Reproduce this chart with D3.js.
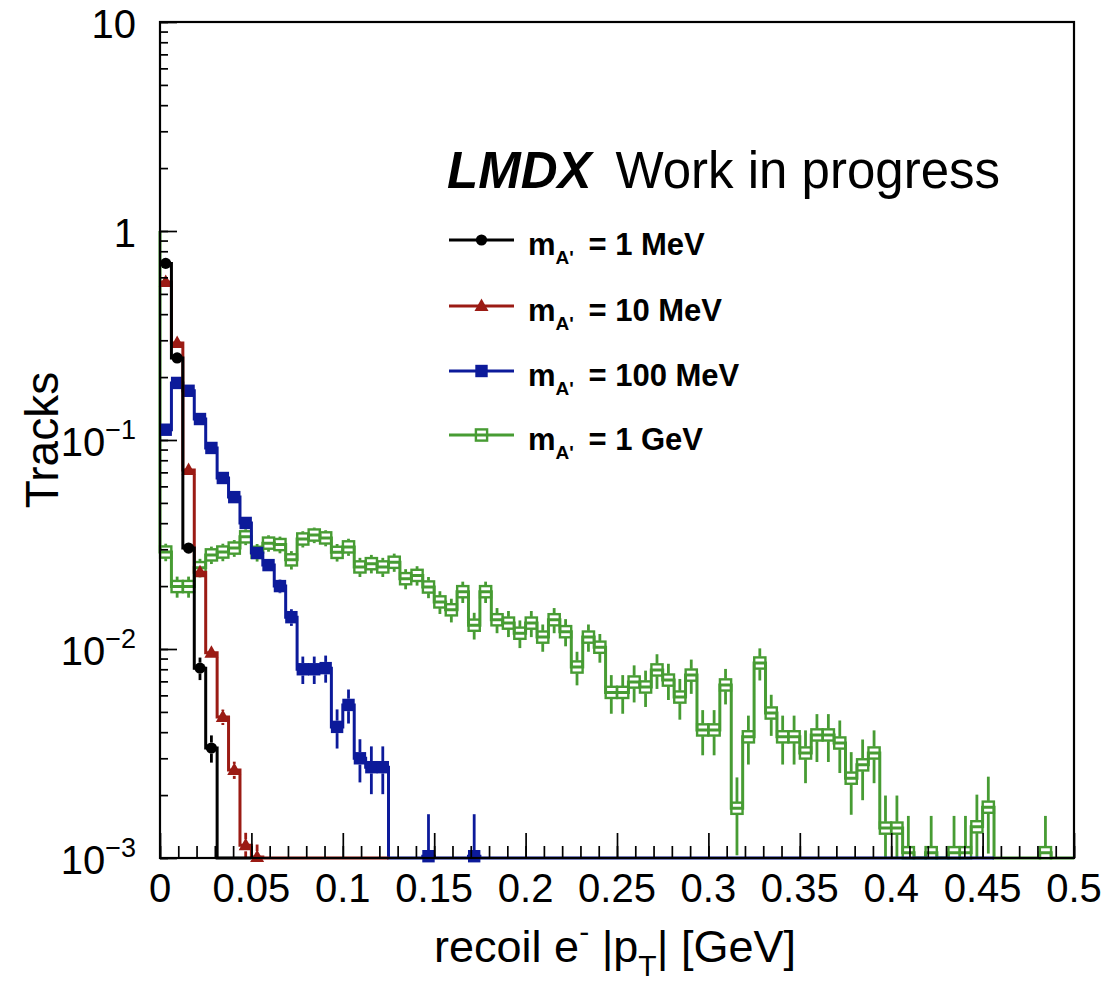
<!DOCTYPE html>
<html><head><meta charset="utf-8">
<script src="https://cdn.jsdelivr.net/npm/d3@7"></script>
<style>
body{margin:0;background:#fff}
text{font-family:"Liberation Sans",Arial,Helvetica,sans-serif;fill:#000}
</style>
</head><body>
<svg id="c" width="1111" height="1003"></svg>
<script>
// ---------------- data ----------------
const xMin = 0, xMax = 0.5, binWidth = 0.00625;
const yMin = 1e-3, yMax = 10;
const xTicks = [0, 0.05, 0.1, 0.15, 0.2, 0.25, 0.3, 0.35, 0.4, 0.45, 0.5];
const xTickLabels = ["0", "0.05", "0.1", "0.15", "0.2", "0.25", "0.3", "0.35", "0.4", "0.45", "0.5"];
const yTicks = [10, 1, 0.1, 0.01, 0.001];
const yTickBase = ["10", "1", "10", "10", "10"];
const yTickExp = ["", "", "\u22121", "\u22122", "\u22123"];

const seriesNames = ["1 MeV", "10 MeV", "100 MeV", "1 GeV"];

const black1MeV = [0.70, 0.247, 0.0304, 0.0081, 0.00336, 0, 0, 0];
const black1MeVErr = [0.008, 0.005, 0.0017, 0.001, 0.0005, 0, 0, 0];

const red10MeV = [0.57, 0.291, 0.0718, 0.0233, 0.0096, 0.00473, 0.00264, 0.00115, 0.00101,
  0, 0, 0, 0, 0, 0, 0, 0, 0, 0, 0];
const red10MeVErr = [0.007, 0.005, 0.0025, 0.0012, 0.0006, 0.0004, 0.00025, 0.00017, 0.00015,
  0, 0, 0, 0, 0, 0, 0, 0, 0, 0, 0];

const blue100MeV = [0.112, 0.1875, 0.172, 0.126, 0.0916, 0.0658, 0.0533, 0.0401, 0.0288, 0.0252,
  0.0200, 0.0142, 0.0080, 0.0080, 0.0081, 0.00424, 0.0054, 0.0030, 0.00272, 0.00272,
  0, 0, 0, 0.00102, 0, 0, 0, 0.00102, 0, 0,
  0, 0, 0, 0, 0, 0, 0, 0, 0, 0,
  0, 0, 0, 0, 0, 0, 0, 0, 0, 0,
  0, 0, 0, 0, 0, 0, 0, 0, 0, 0,
  0, 0, 0, 0, 0, 0, 0, 0, 0, 0,
  0, 0, 0];
const blue100MeVErr = [0.003, 0.004, 0.004, 0.0035, 0.003, 0.0025, 0.0022, 0.002, 0.0017, 0.0016,
  0.0015, 0.0013, 0.0012, 0.0012, 0.0012, 0.0009, 0.001, 0.0007, 0.0007, 0.0007,
  0, 0, 0, 0.0006, 0, 0, 0, 0.0006, 0, 0,
  0, 0, 0, 0, 0, 0, 0, 0, 0, 0,
  0, 0, 0, 0, 0, 0, 0, 0, 0, 0,
  0, 0, 0, 0, 0, 0, 0, 0, 0, 0,
  0, 0, 0, 0, 0, 0, 0, 0, 0, 0,
  0, 0, 0];

const green1GeVLeadIn = 1;
const green1GeV = [0.0291, 0.0199, 0.0199, 0.0245, 0.0282, 0.0291, 0.0304, 0.0344, 0.0290, 0.0321,
  0.0316, 0.0267, 0.0336, 0.0351, 0.0340, 0.0290, 0.0308, 0.0247, 0.0256, 0.0247,
  0.0260, 0.0217, 0.0225, 0.0198, 0.0168, 0.0154, 0.0188, 0.0130, 0.0188, 0.0138,
  0.0133, 0.0119, 0.0133, 0.0114, 0.0138, 0.0121, 0.0082, 0.0114, 0.0102, 0.0062,
  0.0062, 0.00695, 0.00658, 0.00794, 0.0071, 0.00589, 0.0075, 0.0041, 0.0041, 0.00673,
  0.00173, 0.0038, 0.00857, 0.00494, 0.0038, 0.0038, 0.00318, 0.00388, 0.00388, 0.00355,
  0.00241, 0.00279, 0.00318, 0.00139, 0.00139, 0.00106, 0, 0.00106, 0, 0.00106,
  0.00106, 0.00141, 0.00175, 0, 0, 0, 0, 0.00106, 0, 0];
const green1GeVErr = [0.0028, 0.0023, 0.0023, 0.0025, 0.0027, 0.0028, 0.0028, 0.0030, 0.0028, 0.0029,
  0.0029, 0.0027, 0.0030, 0.0030, 0.0030, 0.0028, 0.0029, 0.0026, 0.0026, 0.0026,
  0.0026, 0.0024, 0.0024, 0.0023, 0.0021, 0.0020, 0.0022, 0.0019, 0.0022, 0.0019,
  0.0019, 0.0018, 0.0019, 0.0017, 0.0019, 0.0018, 0.0015, 0.0017, 0.0016, 0.0013,
  0.0013, 0.0014, 0.0013, 0.0015, 0.0014, 0.0013, 0.0014, 0.0010, 0.0010, 0.0013,
  0.0007, 0.0010, 0.0015, 0.0011, 0.0010, 0.0010, 0.0009, 0.0010, 0.0010, 0.0010,
  0.0008, 0.0009, 0.0009, 0.0006, 0.0006, 0.00053, 0, 0.00053, 0, 0.00053,
  0.00053, 0.0006, 0.0007, 0, 0, 0, 0, 0.00053, 0, 0];

// ---------------- layout ----------------
const L = 160, R = 1074, T = 22, B = 858;
const svg = d3.select("#c");
const x = d3.scaleLinear().domain([xMin, xMax]).range([L, R]);
const y = d3.scaleLog().domain([yMin, yMax]).range([B, T]);

const colors = {black: "#000000", red: "#9b1b14", blue: "#0c1a9a", green: "#479c33"};

const series = [
  {name: seriesNames[0], vals: black1MeV, errs: black1MeVErr, color: colors.black, marker: "circle"},
  {name: seriesNames[1], vals: red10MeV, errs: red10MeVErr, color: colors.red, marker: "triangle"},
  {name: seriesNames[2], vals: blue100MeV, errs: blue100MeVErr, color: colors.blue, marker: "square"},
  {name: seriesNames[3], vals: green1GeV, errs: green1GeVErr, color: colors.green, marker: "open", leadIn: green1GeVLeadIn}
];

const gap = {circle: 5.5, triangle: 6, square: 6.2, open: 6.3};

function drawMarker(g, type, cx, cy, color) {
  if (type === "circle") {
    g.append("circle").attr("cx", cx).attr("cy", cy).attr("r", 5.6).attr("fill", color);
  } else if (type === "triangle") {
    g.append("path").attr("d", `M${cx},${cy - 7.5}L${cx + 7},${cy + 5}L${cx - 7},${cy + 5}Z`).attr("fill", color);
  } else if (type === "square") {
    g.append("rect").attr("x", cx - 6.2).attr("y", cy - 6.2).attr("width", 12.4).attr("height", 12.4).attr("fill", color);
  } else {
    g.append("rect").attr("x", cx - 5.6).attr("y", cy - 5.6).attr("width", 11.2).attr("height", 11.2)
      .attr("fill", "none").attr("stroke", color).attr("stroke-width", 2.4);
  }
}

const plot = svg.append("g");
const line = d3.line();

// draw order: green, blue, red, black (black on top)
[3, 2, 1, 0].forEach(si => {
  const s = series[si];
  const g = plot.append("g");
  const pts = [];
  if (s.leadIn !== undefined) pts.push([x(0), y(s.leadIn)]);
  s.vals.forEach((v, i) => {
    const yy = v >= yMin ? y(v) : y(yMin);
    pts.push([x(i * binWidth), yy]);
    pts.push([x((i + 1) * binWidth), yy]);
  });
  g.append("path").attr("d", line(pts)).attr("fill", "none")
    .attr("stroke", s.color).attr("stroke-width", 3).attr("stroke-linejoin", "miter");
  // error bars
  const hg = gap[s.marker];
  s.vals.forEach((v, i) => {
    if (v < yMin) return;
    const cx = x((i + 0.5) * binWidth);
    const cy = y(v);
    const e = s.errs[i] || 0;
    const up = Math.min(v + e, yMax);
    const lo = v - e > yMin ? v - e : yMin;
    if (y(up) < cy - hg) g.append("line").attr("x1", cx).attr("x2", cx).attr("y1", y(up)).attr("y2", cy - hg)
      .attr("stroke", s.color).attr("stroke-width", 2.8);
    if (y(lo) > cy + hg) g.append("line").attr("x1", cx).attr("x2", cx).attr("y1", cy + hg).attr("y2", y(lo))
      .attr("stroke", s.color).attr("stroke-width", 2.8);
  });
  s.vals.forEach((v, i) => {
    if (v < yMin) return;
    drawMarker(g, s.marker, x((i + 0.5) * binWidth), y(v), s.color);
  });
});

// ---------------- axes ----------------
const xMinor = d3.range(0, 51).map(k => k * 0.01);
const axX = svg.append("g").attr("transform", `translate(0,${B})`);
axX.call(d3.axisBottom(x).tickValues(xMinor).tickSize(-12).tickFormat(""));
axX.call(g => g.select(".domain").remove());
const axXMaj = svg.append("g").attr("transform", `translate(0,${B})`);
axXMaj.call(d3.axisBottom(x).tickValues(xTicks).tickSize(-25).tickPadding(0).tickFormat(""));
axXMaj.call(g => g.select(".domain").remove());

const yMinor = y.ticks();
const axY = svg.append("g").attr("transform", `translate(${L},0)`);
axY.call(d3.axisLeft(y).tickValues(yMinor).tickSize(-8).tickFormat(""));
axY.call(g => g.select(".domain").remove());
const axYMaj = svg.append("g").attr("transform", `translate(${L},0)`);
axYMaj.call(d3.axisLeft(y).tickValues(yTicks).tickSize(-17).tickFormat(""));
axYMaj.call(g => g.select(".domain").remove());
svg.selectAll(".tick line").attr("stroke", "#000").attr("stroke-width", 1.7);

// x tick labels
xTicks.forEach((t, i) => {
  svg.append("text").attr("x", x(t)).attr("y", 902).attr("text-anchor", "middle")
    .attr("font-size", 40).text(xTickLabels[i]);
});
// y tick labels
yTicks.forEach((t, i) => {
  const txt = svg.append("text").attr("x", 136).attr("y", y(t) + 16).attr("text-anchor", "end").attr("font-size", 40);
  txt.append("tspan").text(yTickBase[i]);
  if (yTickExp[i]) {
    txt.append("tspan").attr("font-size", 27).attr("dy", -17).text(yTickExp[i]);
  }
});

// frame
svg.append("rect").attr("x", L).attr("y", T).attr("width", R - L).attr("height", B - T)
  .attr("fill", "none").attr("stroke", "#000").attr("stroke-width", 2.2);

// axis titles
const xt = svg.append("text").attr("x", (L + R) / 2 - 2).attr("y", 962).attr("text-anchor", "middle").attr("font-size", 45);
xt.append("tspan").text("recoil e");
xt.append("tspan").attr("font-size", 30).attr("dy", -20).text("-");
xt.append("tspan").attr("dy", 20).text(" |p");
xt.append("tspan").attr("font-size", 30).attr("dy", 14).text("T");
xt.append("tspan").attr("dy", -14).text("| [GeV]");

svg.append("text").attr("transform", "translate(58,440) rotate(-90)").attr("text-anchor", "middle")
  .attr("font-size", 46).text("Tracks");

// header
const hd = svg.append("text").attr("x", 447).attr("y", 188).attr("font-size", 51);
hd.append("tspan").attr("font-weight", "bold").attr("font-style", "italic").text("LMDX");
hd.append("tspan").attr("dx", 24).text("Work in progress");

// legend
const legY = [240, 306, 371, 435];
[0, 1, 2, 3].forEach(i => {
  const s = series[i];
  const g = svg.append("g");
  g.append("line").attr("x1", 449).attr("x2", 514).attr("y1", legY[i]).attr("y2", legY[i])
    .attr("stroke", s.color).attr("stroke-width", 3);
  drawMarker(g, s.marker, 481.5, legY[i], s.color);
  const t = g.append("text").attr("x", 528).attr("y", legY[i] + 15).attr("font-size", 31).attr("font-weight", "bold");
  t.append("tspan").text("m");
  t.append("tspan").attr("font-size", 19).attr("dy", 9).text("A'");
  t.append("tspan").attr("dy", -9).attr("dx", 6).text(" = " + s.name);
});
</script>
</body></html>
